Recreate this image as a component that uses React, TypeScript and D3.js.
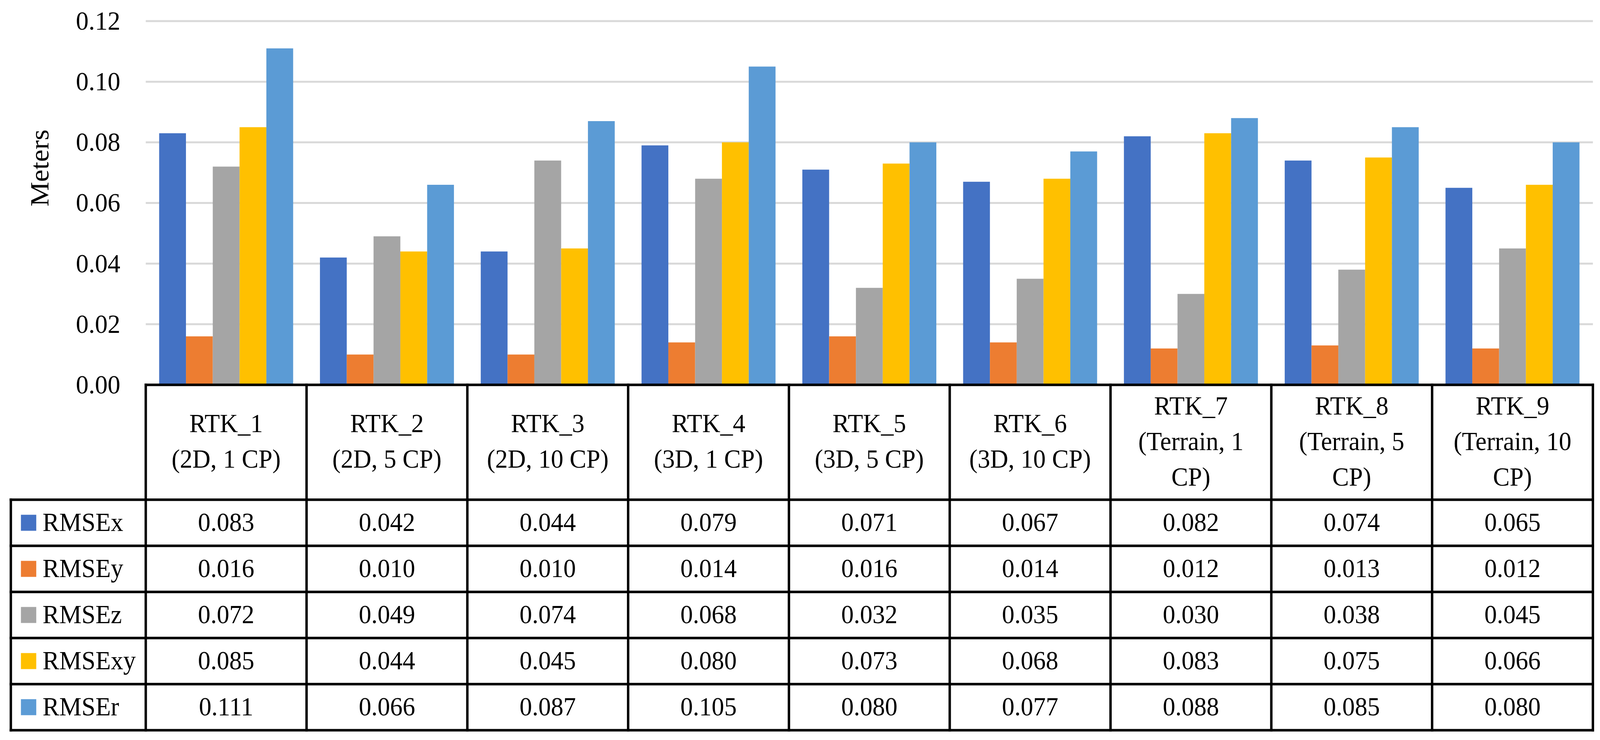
import { useEffect } from "react";
import * as d3 from "d3";

const categories = [
  "RTK_1", "RTK_2", "RTK_3", "RTK_4", "RTK_5", "RTK_6", "RTK_7", "RTK_8", "RTK_9",
];
const categoryLabels = [
  ["RTK_1", "(2D, 1 CP)"],
  ["RTK_2", "(2D, 5 CP)"],
  ["RTK_3", "(2D, 10 CP)"],
  ["RTK_4", "(3D, 1 CP)"],
  ["RTK_5", "(3D, 5 CP)"],
  ["RTK_6", "(3D, 10 CP)"],
  ["RTK_7", "(Terrain, 1", "CP)"],
  ["RTK_8", "(Terrain, 5", "CP)"],
  ["RTK_9", "(Terrain, 10", "CP)"],
];

const seriesNames = ["RMSEx", "RMSEy", "RMSEz", "RMSExy", "RMSEr"];
const seriesColors = ["#4472C4", "#ED7D31", "#A5A5A5", "#FFC000", "#5B9BD5"];

const rmseX = [0.083, 0.042, 0.044, 0.079, 0.071, 0.067, 0.082, 0.074, 0.065];
const rmseY = [0.016, 0.01, 0.01, 0.014, 0.016, 0.014, 0.012, 0.013, 0.012];
const rmseZ = [0.072, 0.049, 0.074, 0.068, 0.032, 0.035, 0.03, 0.038, 0.045];
const rmseXY = [0.085, 0.044, 0.045, 0.08, 0.073, 0.068, 0.083, 0.075, 0.066];
const rmseR = [0.111, 0.066, 0.087, 0.105, 0.08, 0.077, 0.088, 0.085, 0.08];

const yTicks = [0, 0.02, 0.04, 0.06, 0.08, 0.1, 0.12];

const seriesValues = [rmseX, rmseY, rmseZ, rmseXY, rmseR];

const FONT = "'Liberation Serif', 'Times New Roman', serif";

export default function App() {
  useEffect(() => {
    document.body.style.margin = "0";
    document.body.style.overflow = "hidden";
  }, []);

  const width = 4281;
  const height = 1894;

  // plot area / table geometry
  const left = 390;
  const right = 4262;
  const plotTop = 54;
  const plotBottom = 985;
  const headerBottom = 1279;
  const rowH = 118;
  const legendLeft = 29;
  const tableBottom = headerBottom + rowH * seriesNames.length;
  const fontSize = 67;
  const lineW = 6.5;

  const x = d3.scaleBand<string>().domain(categories).range([left, right]);
  const xInner = d3
    .scaleBand<string>()
    .domain(seriesNames)
    .range([0, x.bandwidth()])
    .paddingOuter(0.5);
  const y = d3.scaleLinear().domain([0, 0.12]).range([plotBottom, plotTop]);
  const fmt = d3.format(".2f");
  const fmt3 = d3.format(".3f");

  const rowY = (i: number) => headerBottom + i * rowH;
  const headerMid = (plotBottom + headerBottom) / 2;
  const lineGap = 91;

  return (
    <svg
      viewBox={`0 0 ${width} ${height}`}
      preserveAspectRatio="none"
      style={{ display: "block", width: "100vw", height: "100vh" }}
      fontFamily={FONT}
    >
      <rect width={width} height={height} fill="#ffffff" />

      {/* grid lines */}
      {yTicks.slice(1).map((t) => (
        <line
          key={t}
          x1={left}
          x2={right}
          y1={y(t)}
          y2={y(t)}
          stroke="#d9d9d9"
          strokeWidth={5}
        />
      ))}

      {/* y tick labels */}
      {yTicks.map((t) => (
        <text
          key={t}
          x={322}
          y={y(t) + 22}
          textAnchor="end"
          fontSize={fontSize + 1}
          fill="#000"
        >
          {fmt(t)}
        </text>
      ))}

      <text
        transform={`translate(130, 430) rotate(-90)`}
        textAnchor="middle"
        fontSize={71}
        fill="#000"
      >
        Meters
      </text>

      {/* bars */}
      {seriesNames.map((s, si) =>
        categories.map((c, ci) => (
          <rect
            key={`${s}-${c}`}
            x={(x(c) ?? 0) + (xInner(s) ?? 0)}
            y={y(seriesValues[si][ci])}
            width={xInner.bandwidth()}
            height={plotBottom - y(seriesValues[si][ci])}
            fill={seriesColors[si]}
          />
        ))
      )}

      {/* table header text */}
      {categories.map((c, ci) => {
        const lines = categoryLabels[ci];
        const first = headerMid - ((lines.length - 1) * lineGap) / 2 + 20;
        return (
          <text
            key={c}
            textAnchor="middle"
            fontSize={fontSize}
            fill="#000"
          >
            {lines.map((l, li) => (
              <tspan key={li} x={(x(c) ?? 0) + x.bandwidth() / 2} y={first + li * lineGap}>
                {l}
              </tspan>
            ))}
          </text>
        );
      })}

      {/* table rows */}
      {seriesNames.map((s, si) => (
        <g key={s}>
          <rect
            x={56}
            y={rowY(si) + rowH / 2 - 20.5}
            width={41}
            height={41}
            fill={seriesColors[si]}
          />
          <text x={114} y={rowY(si) + rowH / 2 + 21} fontSize={fontSize} fill="#000">
            {s}
          </text>
          {categories.map((c, ci) => (
            <text
              key={c}
              x={(x(c) ?? 0) + x.bandwidth() / 2}
              y={rowY(si) + rowH / 2 + 21}
              textAnchor="middle"
              fontSize={fontSize}
              fill="#000"
            >
              {fmt3(seriesValues[si][ci])}
            </text>
          ))}
        </g>
      ))}

      {/* table lines */}
      <g stroke="#000" strokeWidth={lineW} strokeLinecap="square">
        <line x1={left} x2={right} y1={plotBottom} y2={plotBottom} />
        {seriesNames.map((s, si) => (
          <line key={s} x1={legendLeft} x2={right} y1={rowY(si)} y2={rowY(si)} />
        ))}
        <line x1={legendLeft} x2={right} y1={tableBottom} y2={tableBottom} />
        <line x1={legendLeft} x2={legendLeft} y1={headerBottom} y2={tableBottom} />
        {categories.map((c) => (
          <line key={c} x1={x(c)} x2={x(c)} y1={plotBottom} y2={tableBottom} />
        ))}
        <line x1={right} x2={right} y1={plotBottom} y2={tableBottom} />
      </g>
    </svg>
  );
}
